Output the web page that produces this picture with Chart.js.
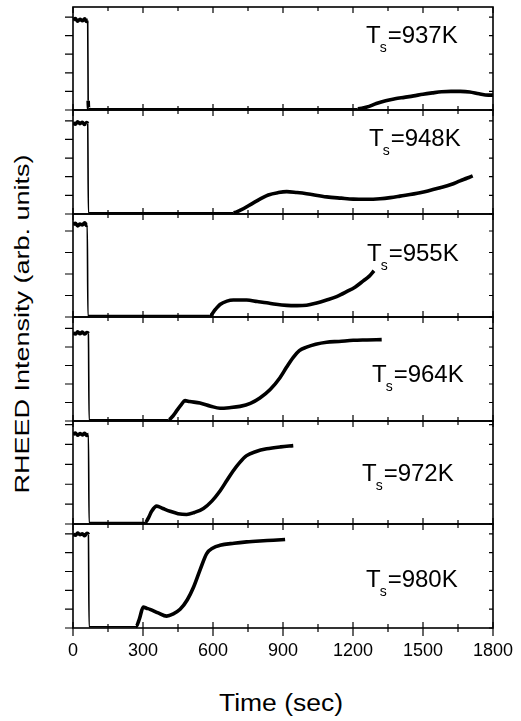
<!DOCTYPE html>
<html>
<head>
<meta charset="utf-8">
<script src="https://cdn.jsdelivr.net/npm/chart.js@4.4.1/dist/chart.umd.min.js"></script>
<style>
    html, body { margin: 0; padding: 0; background: #fff; }
    #wrap { position: relative; width: 521px; height: 721px; overflow: hidden; font-family: "Liberation Sans", Arial, sans-serif; color: #000; }
    #wrap canvas { position: absolute; left: 0; }
    .ytitle { position: absolute; left: 22px; top: 324px; white-space: nowrap; font-size: 20px; line-height: 1;
              transform: translate(-50%, -50%) rotate(-90deg) scaleX(1.35); }
    .xtitle { position: absolute; left: 281px; top: 703px; white-space: nowrap; font-size: 23px; line-height: 1;
              transform: translate(-50%, -50%) scaleX(1.15); }
</style>
</head>
<body>
<div id="wrap">
    <div class="ytitle">RHEED Intensity (arb. units)</div>
    <div class="xtitle">Time (sec)</div>
</div>
<script>
// --- data (time in s, intensity in arb. units) ---
const xTicks = [0, 300, 600, 900, 1200, 1500, 1800];
const temps = ['937K', '948K', '955K', '964K', '972K', '980K'];

const t937 = [0, 10, 20, 30, 40, 50, 58, 63, 65, 68, 1220, 1260, 1300, 1340, 1380, 1420, 1460, 1500, 1540, 1580, 1620, 1660, 1700, 1740, 1780, 1800];
const v937 = [4.85, 4.92, 4.78, 4.88, 4.8, 4.9, 4.76, 4.82, 0.5, 0.07, 0.07, 0.16, 0.35, 0.5, 0.6, 0.68, 0.76, 0.85, 0.92, 0.98, 1.0, 1.0, 0.97, 0.87, 0.8, 0.8];

const t948 = [0, 10, 20, 30, 40, 50, 58, 63, 66, 687, 720, 773, 837, 880, 916, 960, 1001, 1087, 1150, 1201, 1260, 1316, 1360, 1401, 1487, 1573, 1620, 1659, 1690, 1713];
const v948 = [4.9, 4.82, 4.95, 4.85, 4.92, 4.8, 4.9, 4.86, 0.07, 0.07, 0.22, 0.6, 1.02, 1.15, 1.2, 1.15, 1.09, 0.92, 0.85, 0.8, 0.79, 0.82, 0.88, 0.96, 1.14, 1.41, 1.58, 1.78, 1.93, 2.05];

const t955 = [0, 10, 20, 30, 40, 50, 58, 61, 64, 587, 610, 630, 660, 687, 744, 790, 830, 870, 916, 960, 1001, 1040, 1087, 1130, 1173, 1210, 1244, 1270, 1290];
const v955 = [4.3, 4.36, 4.24, 4.32, 4.28, 4.38, 4.26, 4.3, 0.07, 0.07, 0.35, 0.58, 0.74, 0.79, 0.79, 0.72, 0.66, 0.59, 0.54, 0.53, 0.55, 0.64, 0.79, 0.95, 1.18, 1.4, 1.68, 1.9, 2.15];

const t964 = [0, 10, 20, 30, 40, 50, 60, 66, 69, 409, 430, 444, 465, 480, 500, 544, 590, 630, 670, 716, 760, 801, 845, 887, 915, 944, 970, 1001, 1040, 1087, 1140, 1201, 1260, 1323];
const v964 = [4.76, 4.7, 4.82, 4.72, 4.8, 4.7, 4.78, 4.74, 0.07, 0.07, 0.3, 0.55, 0.9, 1.1, 1.05, 0.97, 0.8, 0.69, 0.72, 0.79, 0.95, 1.24, 1.7, 2.34, 2.9, 3.44, 3.8, 3.99, 4.15, 4.26, 4.3, 4.36, 4.38, 4.4];

const t972 = [0, 10, 20, 30, 40, 50, 60, 66, 69, 309, 325, 337, 359, 385, 416, 450, 487, 520, 559, 595, 630, 660, 687, 715, 744, 785, 830, 890, 944];
const v972 = [4.5, 4.58, 4.46, 4.55, 4.48, 4.56, 4.45, 4.5, 0.07, 0.07, 0.35, 0.64, 0.9, 0.78, 0.64, 0.52, 0.48, 0.58, 0.78, 1.15, 1.66, 2.2, 2.68, 3.1, 3.44, 3.65, 3.78, 3.88, 3.94];

const t980 = [0, 10, 20, 30, 40, 50, 60, 66, 69, 270, 285, 301, 315, 330, 365, 401, 430, 459, 490, 516, 545, 573, 600, 630, 690, 744, 800, 859, 909];
const v980 = [4.98, 4.92, 5.04, 4.95, 5.0, 4.9, 5.02, 4.96, 0.07, 0.07, 0.5, 1.11, 1.05, 0.99, 0.8, 0.63, 0.75, 0.99, 1.5, 2.15, 3.1, 3.95, 4.25, 4.39, 4.5, 4.57, 4.62, 4.66, 4.7];

const times = [t937, t948, t955, t964, t972, t980];
const values = [v937, v948, v955, v964, v972, v980];

// --- layout of the stacked panels ---
const panelTop = [7, 110, 214, 317, 421, 524];
const panelBottom = [110, 214, 317, 421, 524, 628];
const yMax = [5.54, 5.58, 4.79, 5.62, 5.18, 5.52];
const labelPos = [[366, 36], [369, 36], [367, 47], [372, 65], [362, 60], [366, 63]]; // T left edge, baseline below panel top
const PLOT_LEFT = 73, PLOT_RIGHT = 493, MARGIN = 10;

const FONT = '"Liberation Sans", Arial, sans-serif';

const panelPlugin = {
    id: 'panel',
    afterDatasetsDraw(chart, args, opts) {
        const { ctx, chartArea: a } = chart;
        const x = chart.scales.x, y = chart.scales.y;
        ctx.save();
        ctx.strokeStyle = '#000';
        ctx.lineWidth = 1.6;
        ctx.strokeRect(a.left, a.top, a.right - a.left, a.bottom - a.top);

        // x ticks, inward on top and bottom (major every 300 s, minor halfway)
        ctx.lineWidth = 1.2;
        ctx.beginPath();
        xTicks.forEach((v, i) => {
            const px = x.getPixelForValue(v);
            ctx.moveTo(px, a.top); ctx.lineTo(px, a.top + 6);
            ctx.moveTo(px, a.bottom); ctx.lineTo(px, a.bottom - 6);
            if (opts.bottom) { ctx.moveTo(px, a.bottom); ctx.lineTo(px, a.bottom + 8); }
            if (i < xTicks.length - 1) {
                const pm = x.getPixelForValue((v + xTicks[i + 1]) / 2);
                ctx.moveTo(pm, a.top); ctx.lineTo(pm, a.top + 4);
                ctx.moveTo(pm, a.bottom); ctx.lineTo(pm, a.bottom - 4);
                if (opts.bottom) { ctx.moveTo(pm, a.bottom); ctx.lineTo(pm, a.bottom + 4); }
            }
        });
        // y ticks: outward on the left, inward on the right
        for (let v = 0; v <= y.max; v += 1) {
            const py = y.getPixelForValue(v);
            ctx.moveTo(a.left - 8, py); ctx.lineTo(a.left, py);
            ctx.moveTo(a.right - 4, py); ctx.lineTo(a.right, py);
        }
        ctx.stroke();

        // temperature label  T_s=...K
        ctx.fillStyle = '#000';
        ctx.textBaseline = 'alphabetic';
        ctx.textAlign = 'left';
        const lx = opts.lx, ly = a.top + opts.ly;
        ctx.font = '24px ' + FONT;
        const tw = ctx.measureText('T').width;
        ctx.fillText('T', lx, ly);
        ctx.font = '14px ' + FONT;
        ctx.fillText('s', lx + tw - 1, ly + 9);
        const sw = ctx.measureText('s').width;
        ctx.font = '24px ' + FONT;
        ctx.fillText('=' + opts.label, lx + tw + sw, ly);

        // tick labels under the last panel
        if (opts.bottom) {
            ctx.font = '18px ' + FONT;
            ctx.textAlign = 'center';
            ctx.textBaseline = 'middle';
            xTicks.forEach(v => ctx.fillText(String(v), x.getPixelForValue(v), a.bottom + 23));
        }
        ctx.restore();
    }
};

const wrap = document.getElementById('wrap');

temps.forEach((temp, i) => {
    const last = i === temps.length - 1;
    const canvasTop = panelTop[i] - MARGIN;
    const canvasHeight = last ? 721 - canvasTop : panelBottom[i] - panelTop[i] + 2 * MARGIN;
    const bottomPad = canvasHeight - MARGIN - (panelBottom[i] - panelTop[i]);

    const canvas = document.createElement('canvas');
    canvas.width = 521;
    canvas.height = canvasHeight;
    canvas.style.top = canvasTop + 'px';
    wrap.appendChild(canvas);

    const pts = times[i].map((t, k) => ({ x: t, y: values[i][k] }));

    new Chart(canvas, {
        type: 'line',
        data: {
            datasets: [{
                label: 'Ts=' + temp,
                data: pts,
                borderColor: '#000',
                borderWidth: 3.6,
                pointRadius: 0,
                cubicInterpolationMode: 'monotone',
                segment: {
                    // drop and flat baseline are thin, the recorded signal is a thick noisy trace
                    borderWidth: c => ((c.p0.parsed.y < 0.15 && c.p1.parsed.y < 0.15) || (c.p0.parsed.y - c.p1.parsed.y > 2)) ? 1.6 : 3.6
                }
            }]
        },
        options: {
            responsive: false,
            animation: false,
            layout: { padding: { left: PLOT_LEFT, right: 521 - PLOT_RIGHT, top: MARGIN, bottom: bottomPad } },
            scales: {
                x: { type: 'linear', min: 0, max: 1800, display: false },
                y: { type: 'linear', min: 0, max: yMax[i], display: false }
            },
            plugins: {
                legend: { display: false },
                tooltip: { enabled: false },
                panel: { label: temp, lx: labelPos[i][0], ly: labelPos[i][1], bottom: last }
            }
        },
        plugins: [panelPlugin]
    });
});
</script>
</body>
</html>
